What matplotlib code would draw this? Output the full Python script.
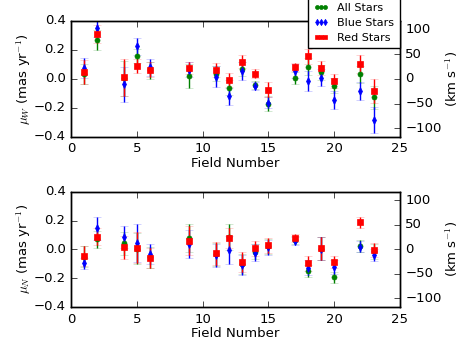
import numpy as np
import matplotlib
matplotlib.use('Agg')
import matplotlib.pyplot as plt

plt.style.use('classic')

# field numbers
fields = [1, 2, 4, 5, 6, 9, 11, 12, 13, 14, 15, 17, 18, 19, 20, 22, 23]

# mu_W (mas/yr)
muw_all = [0.032, 0.27, 0.005, 0.16, 0.06, 0.02, 0.037, -0.06, 0.069, -0.041, -0.17, 0.007, 0.085, 0.046, -0.046, 0.032, -0.126]
muw_all_err = [0.07, 0.07, 0.12, 0.05, 0.06, 0.08, 0.05, 0.05, 0.05, 0.03, 0.05, 0.04, 0.06, 0.05, 0.05, 0.06, 0.08]
muw_blue = [0.076, 0.35, -0.037, 0.225, 0.08, 0.065, 0.016, -0.12, 0.055, -0.048, -0.163, 0.055, -0.016, 0.009, -0.145, -0.083, -0.285]
muw_blue_err = [0.07, 0.06, 0.12, 0.06, 0.06, 0.05, 0.07, 0.06, 0.06, 0.03, 0.04, 0.05, 0.07, 0.06, 0.06, 0.06, 0.09]
muw_red = [0.048, 0.31, 0.01, 0.09, 0.065, 0.074, 0.062, -0.007, 0.117, 0.037, -0.074, 0.083, 0.156, 0.074, -0.016, 0.103, -0.083]
muw_red_err = [0.08, 0.06, 0.13, 0.05, 0.05, 0.04, 0.05, 0.05, 0.045, 0.03, 0.05, 0.03, 0.05, 0.05, 0.05, 0.06, 0.08]

# mu_N (mas/yr)
mun_all = [-0.05, 0.07, 0.042, 0.005, -0.056, 0.079, -0.033, 0.088, -0.1, -0.016, 0.02, 0.065, -0.151, 0.005, -0.195, 0.023, -0.014]
mun_all_err = [0.07, 0.06, 0.08, 0.11, 0.07, 0.1, 0.08, 0.09, 0.07, 0.05, 0.05, 0.03, 0.04, 0.08, 0.04, 0.04, 0.05]
mun_blue = [-0.098, 0.147, 0.084, 0.044, -0.033, 0.037, -0.04, -0.005, -0.109, -0.023, 0.014, 0.058, -0.126, 0.005, -0.123, 0.019, -0.04]
mun_blue_err = [0.04, 0.08, 0.075, 0.13, 0.07, 0.1, 0.08, 0.1, 0.07, 0.06, 0.05, 0.03, 0.05, 0.08, 0.05, 0.04, 0.04]
mun_red = [-0.047, 0.088, 0.014, 0.012, -0.058, 0.06, -0.028, 0.081, -0.086, 0.007, 0.028, 0.079, -0.098, 0.009, -0.088, 0.188, -0.005]
mun_red_err = [0.07, 0.06, 0.08, 0.11, 0.07, 0.1, 0.08, 0.07, 0.07, 0.05, 0.05, 0.03, 0.05, 0.08, 0.04, 0.04, 0.05]

kms_per_mas = 4.74 * 62.0


def draw(ax, ya, ea, yb, eb, yr, er):
    handles = []
    for y, e, c, m, ms, lab in [(ya, ea, 'g', 'o', 3.6, 'All Stars'),
                                (yb, eb, 'b', 'd', 4, 'Blue Stars'),
                                (yr, er, 'r', 's', 4.2, 'Red Stars')]:
        line, caps, bars = ax.errorbar(fields, y, yerr=e, fmt=m, color=c, ecolor=c,
                                       mec=c, ms=ms, capsize=3, elinewidth=1, label=lab)
        for cap in caps:
            cap.set_alpha(0.25)
        handles.append(line)
    ax.set_xlim(0, 25)
    ax.set_ylim(-0.4, 0.4)
    ax.set_xticks([0, 5, 10, 15, 20, 25])
    ax.set_yticks([-0.4, -0.2, 0.0, 0.2, 0.4])
    ax.set_xlabel('Field Number', fontsize=9.5, labelpad=1)
    ax.tick_params(labelsize=9.5)
    ax2 = ax.twinx()
    ax2.set_ylim(-0.4 * kms_per_mas, 0.4 * kms_per_mas)
    ax2.set_yticks([-100, -50, 0, 50, 100])
    ax2.tick_params(labelsize=9.5)
    ax2.set_ylabel(r'(km s$^{-1}$)', fontsize=9.5, labelpad=1)
    return handles


fig = plt.figure(figsize=(4.71, 3.5), dpi=100)
fig.patch.set_facecolor('white')
ax1 = fig.add_axes([0.151, 0.609, 0.698, 0.331])
ax3 = fig.add_axes([0.151, 0.123, 0.698, 0.329])

h = draw(ax1, muw_all, muw_all_err, muw_blue, muw_blue_err, muw_red, muw_red_err)
ax1.set_ylabel(r'$\mu_W$ (mas yr$^{-1}$)', fontsize=9.5, labelpad=0)
draw(ax3, mun_all, mun_all_err, mun_blue, mun_blue_err, mun_red, mun_red_err)
ax3.set_ylabel(r'$\mu_N$ (mas yr$^{-1}$)', fontsize=9.5, labelpad=0)

fig.legend(h, ['All Stars', 'Blue Stars', 'Red Stars'], loc='upper right',
           bbox_to_anchor=(0.849, 1.008), numpoints=3, fontsize=8,
           markerscale=0.8, handlelength=1.3, borderpad=0.5, labelspacing=0.45,
           handletextpad=0.8, borderaxespad=0.0)

fig.savefig('out.png', dpi=100, facecolor='white')
